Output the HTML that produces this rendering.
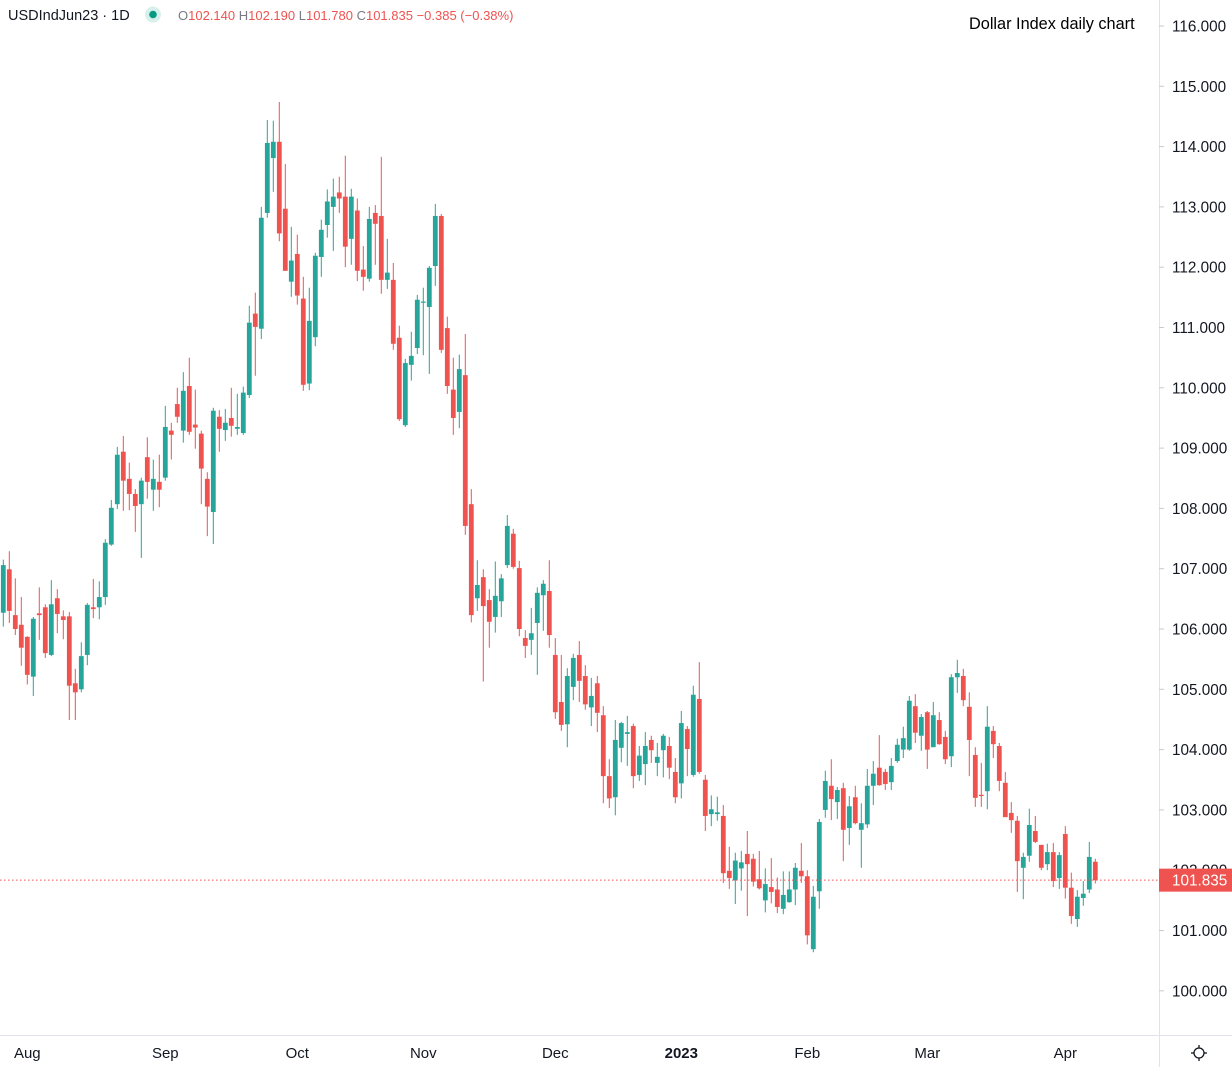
<!DOCTYPE html>
<html><head><meta charset="utf-8"><style>
html,body{margin:0;padding:0;background:#fff;}
body{width:1232px;height:1067px;overflow:hidden;font-family:"Liberation Sans",sans-serif;}
svg text{font-family:"Liberation Sans",sans-serif;}
</style></head><body>
<svg id="chart" width="1232" height="1067" viewBox="0 0 1232 1067" xmlns="http://www.w3.org/2000/svg">
<g id="grid"></g>
<g id="candles"></g>
<line id="lastline" x1="0" x2="1159" stroke="#ef5350" stroke-width="1" stroke-dasharray="1.5,2.5"/>
<line x1="1159.5" y1="0" x2="1159.5" y2="1067" stroke="#e0e3eb"/>
<line x1="0" y1="1035.5" x2="1232" y2="1035.5" stroke="#e0e3eb"/>
<g id="yaxis"></g>
<g id="xaxis"></g>
<g id="lastlabel"></g>
<g>
<text x="8" y="20" font-size="14.5" fill="#131722">USDIndJun23 · 1D</text>
<circle cx="153" cy="14.5" r="8" fill="#d8f0ec"/>
<circle cx="153" cy="14.5" r="3.8" fill="#089981"/>
<text x="178" y="20" font-size="13" fill="#ef5350"><tspan fill="#787b86">O</tspan>102.140 <tspan fill="#787b86">H</tspan>102.190 <tspan fill="#787b86">L</tspan>101.780 <tspan fill="#787b86">C</tspan>101.835 −0.385 (−0.38%)</text>
<text x="969" y="29" font-size="16.3" fill="#000">Dollar Index daily chart</text>
</g>
<g transform="translate(1199,1053)">
<circle r="5" fill="none" stroke="#131722" stroke-width="1.3"/>
<g stroke="#131722" stroke-width="1.3"><line x1="0" y1="-8" x2="0" y2="-5"/><line x1="0" y1="5" x2="0" y2="8"/><line x1="-8" y1="0" x2="-5" y2="0"/><line x1="5" y1="0" x2="8" y2="0"/></g>
</g>
</svg>
<script>
const opens=[106.27,106.99,106.23,106.07,105.87,105.21,106.26,106.36,105.57,106.51,106.21,106.21,105.10,105.00,105.57,106.36,106.36,106.53,107.40,108.07,108.94,108.49,108.24,108.07,108.85,108.31,108.44,108.51,109.29,109.73,109.29,110.03,109.39,109.24,108.49,107.94,109.52,109.30,109.50,109.32,109.25,109.88,111.23,110.98,112.90,113.81,114.08,112.97,111.76,112.22,111.48,110.07,110.84,112.17,112.70,113.00,113.24,113.17,112.47,112.94,111.96,111.81,112.90,112.85,111.79,111.79,110.83,109.38,110.38,110.66,111.41,111.34,112.02,112.85,110.99,109.97,109.60,110.21,108.07,106.51,106.86,106.48,106.20,106.46,107.06,107.58,107.01,105.85,105.82,106.10,106.56,106.63,105.57,104.79,104.42,105.04,105.57,105.22,104.70,105.10,104.57,103.56,103.21,104.03,104.26,104.39,103.58,103.76,104.16,103.78,103.99,104.06,103.63,103.44,104.34,103.58,104.84,103.50,102.93,102.93,102.90,101.99,101.83,102.03,102.27,102.19,101.85,101.50,101.72,101.68,101.36,101.47,101.68,101.99,101.90,100.69,101.65,103.00,103.40,103.13,103.36,102.70,103.21,102.67,102.76,103.40,103.70,103.63,103.46,103.81,104.00,104.00,104.72,104.23,104.62,104.04,104.49,104.21,103.89,105.20,105.22,104.71,103.91,103.25,103.31,104.31,104.06,103.45,102.95,102.82,102.04,102.24,102.65,102.42,102.10,102.30,101.87,102.60,101.71,101.19,101.54,101.68,102.14];
const highs=[107.15,107.29,106.84,106.53,105.88,106.20,106.69,106.41,106.81,106.66,106.31,106.28,105.34,105.78,106.43,106.83,106.79,107.49,108.14,109.02,109.20,108.76,108.32,108.51,109.18,108.81,108.89,109.70,109.42,110.00,110.26,110.50,109.97,109.29,108.60,109.67,109.63,109.65,110.00,109.90,110.02,111.36,111.58,113.00,114.44,114.43,114.74,113.71,112.67,112.54,111.84,111.66,112.24,112.79,113.29,113.47,113.50,113.85,113.30,113.14,112.35,113.00,113.03,113.83,112.47,112.07,111.03,110.48,110.93,111.54,111.66,112.02,113.05,112.88,111.18,110.50,110.55,110.89,108.32,107.14,106.99,106.66,107.12,106.91,107.89,107.66,107.13,105.98,106.35,106.69,106.81,107.14,105.85,105.57,105.35,105.59,105.80,105.40,105.19,105.22,104.72,103.84,104.49,104.46,104.56,104.43,104.06,104.29,104.23,104.11,104.26,104.21,103.86,104.64,104.39,105.06,105.45,103.58,103.24,103.22,103.08,102.39,102.29,102.32,102.65,102.27,102.32,102.03,102.20,101.88,101.98,101.98,102.12,102.45,102.00,101.74,102.85,103.65,103.84,103.38,103.45,103.23,103.40,103.11,103.68,103.81,104.24,103.68,103.86,104.18,104.38,104.89,104.92,104.59,104.64,104.79,104.62,104.31,105.25,105.49,105.34,104.95,104.04,103.78,104.72,104.39,104.11,103.63,103.13,102.90,102.29,103.02,102.90,102.42,102.44,102.45,102.30,102.73,101.96,101.67,101.82,102.47,102.19];
const lows=[106.04,106.10,105.90,105.39,105.08,104.89,105.82,105.52,105.55,105.93,105.83,104.49,104.49,104.95,105.40,106.18,106.16,106.40,107.38,107.99,107.96,107.97,107.61,107.18,108.16,107.96,108.02,108.46,108.81,109.42,109.09,109.22,108.99,108.07,107.54,107.41,108.94,109.12,109.19,109.22,109.22,109.83,110.20,110.81,112.82,113.25,112.43,111.94,111.51,111.38,109.95,109.96,110.69,111.84,112.49,112.27,112.90,112.00,112.04,111.77,111.61,111.76,112.04,111.56,111.64,110.63,109.45,109.35,110.12,110.56,110.54,110.23,111.69,110.58,109.90,109.22,109.33,107.56,106.11,106.30,105.13,105.69,105.94,106.20,107.01,107.00,105.88,105.52,105.57,105.24,105.97,105.69,104.51,104.31,104.04,104.82,104.79,104.66,104.39,104.29,103.11,103.03,102.91,103.79,103.73,103.36,103.48,103.41,103.78,103.56,103.54,103.51,103.11,103.19,103.56,103.55,103.60,102.65,102.73,102.82,101.79,101.69,101.44,101.66,101.24,101.73,101.68,101.30,101.45,101.29,101.27,101.46,101.42,101.79,100.77,100.64,101.36,102.87,102.83,102.85,102.15,102.42,102.76,102.04,102.70,103.08,103.40,103.33,103.33,103.78,103.86,103.98,104.11,103.98,103.68,104.04,104.08,103.76,103.71,104.94,104.72,103.56,103.05,103.05,103.01,103.86,103.31,102.88,102.62,101.64,101.52,102.14,102.45,102.00,102.00,101.72,101.69,101.53,101.11,101.06,101.41,101.62,101.78];
const closes=[107.06,106.30,106.00,105.69,105.24,106.17,106.23,105.60,106.41,106.25,106.15,105.06,104.95,105.55,106.40,106.33,106.53,107.43,108.01,108.89,108.46,108.24,108.04,108.46,108.44,108.49,108.31,109.35,109.22,109.52,109.95,109.27,109.34,108.66,108.03,109.62,109.32,109.42,109.37,109.35,109.92,111.08,111.01,112.82,114.06,114.08,112.56,111.94,112.11,111.53,110.05,111.11,112.19,112.62,113.09,113.17,113.14,112.34,113.17,111.94,111.84,112.80,112.72,111.79,111.91,110.73,109.48,110.41,110.53,111.46,111.43,111.99,112.85,110.63,110.03,109.50,110.31,107.71,106.23,106.73,106.38,106.12,106.55,106.84,107.71,107.03,106.00,105.72,105.93,106.60,106.75,105.90,104.62,104.41,105.22,105.52,105.14,104.75,104.89,104.61,103.56,103.19,104.16,104.44,104.29,103.56,103.90,104.06,103.99,103.88,104.23,103.70,103.21,104.44,104.01,104.91,103.63,102.90,103.01,102.96,101.95,101.87,102.16,102.13,102.10,101.81,101.70,101.77,101.64,101.39,101.59,101.68,102.04,101.90,100.92,101.56,102.80,103.48,103.18,103.33,102.67,103.06,102.78,102.78,103.40,103.60,103.41,103.43,103.73,104.08,104.19,104.81,104.28,104.54,104.00,104.57,104.09,103.84,105.20,105.27,104.82,104.16,103.20,103.23,104.38,104.09,103.48,102.88,102.83,102.15,102.22,102.75,102.47,102.04,102.30,101.82,102.25,101.71,101.24,101.56,101.61,102.22,101.835];
const priceTicks=[100,101,102,103,104,105,106,107,108,109,110,111,112,113,114,115,116];
const timeLabels=["Aug","Sep","Oct","Nov","Dec","2023","Feb","Mar","Apr"];
const timeLabelIndex=[4,27,49,70,92,113,134,154,177];
const lastPrice=101.835;

const NS="http://www.w3.org/2000/svg";
function yScale(v){return 26+(116-v)*60.3;}
function xScale(i){return 3.3+6*i;}
function mk(tag,attrs,parent){const e=document.createElementNS(NS,tag);for(const k in attrs)e.setAttribute(k,attrs[k]);parent.appendChild(e);return e;}

const cg=document.getElementById('candles');
for(let i=0;i<opens.length;i++){
  const up=closes[i]>=opens[i];
  const col=up?'#26a69a':'#ef5350';
  const g=mk('g',{},cg);
  
  
  const x=xScale(i);
  const w=mk('line',{x1:x,x2:x,y1:yScale(highs[i]),y2:yScale(lows[i]),stroke:col,'stroke-width':1},g);
  
  
  const top=yScale(Math.max(opens[i],closes[i])),bot=yScale(Math.min(opens[i],closes[i]));
  const b=mk('rect',{x:x-2.4,y:top,width:4.8,height:Math.max(1,bot-top),fill:col},g);
  
  
}
const ya=document.getElementById('yaxis');
priceTicks.forEach(p=>{
  const y=yScale(p);
  const t=mk('line',{x1:1159,x2:1164,y1:y,y2:y,stroke:'#c8cad0'},ya);
  
  
  const tx=mk('text',{x:1172,y:y+5.5,'font-size':15.3,fill:'#131722'},ya);
  
  
  tx.textContent=p.toFixed(3);
});
const xa=document.getElementById('xaxis');
timeLabels.forEach((l,k)=>{
  const x=xScale(timeLabelIndex[k]);
  const tx=mk('text',{x:x,y:1058,'font-size':15,fill:'#131722','text-anchor':'middle','font-weight':l==='2023'?'bold':'normal'},xa);
  
  
  tx.textContent=l;
});
const ly=yScale(lastPrice);
const ll=document.getElementById('lastline');ll.setAttribute('y1',ly);ll.setAttribute('y2',ly);
const lg=document.getElementById('lastlabel');
const r=mk('rect',{x:1159,y:ly-11.5,width:73,height:23,fill:'#ef5350'},lg);


const lt=mk('text',{x:1172,y:ly+5.5,'font-size':15.3,fill:'#fff'},lg);


lt.textContent=lastPrice.toFixed(3);
</script>
</body></html>
